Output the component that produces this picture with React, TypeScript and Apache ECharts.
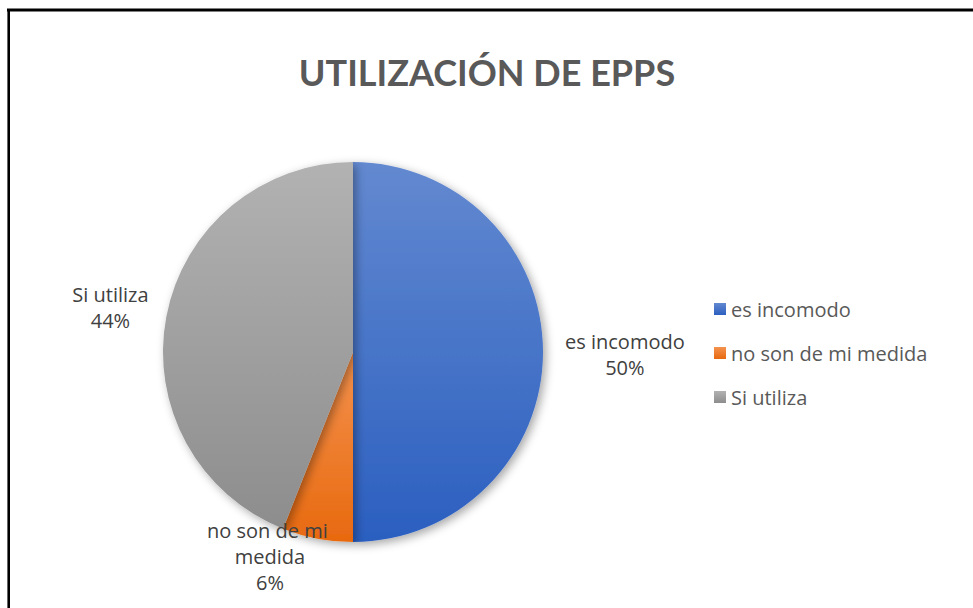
import React, { useEffect, useRef } from "react";
import * as echarts from "echarts";

const titleText = "UTILIZACIÓN DE EPPS";
const categories = ["es incomodo", "no son de mi medida", "Si utiliza"];
const values = [50, 6, 44];
const gradients: [string, string][] = [
  ["#6389d0", "#2b5fc0"],
  ["#f4924e", "#e8690f"],
  ["#b2b2b2", "#8d8d8d"],
];

export default function App() {
  const ref = useRef<HTMLDivElement>(null);
  useEffect(() => {
    if (!ref.current) return;
    const chart = echarts.init(ref.current, null, { renderer: "svg" });
    const font = "Lato, 'Noto Sans', sans-serif";
    const textFont = "'Open Sans', 'Noto Sans', sans-serif";
    chart.setOption({
      animation: false,
      backgroundColor: "#ffffff",
      title: {
        text: titleText,
        left: 482,
        textAlign: "center",
        top: 49,
        textStyle: { fontFamily: font, fontSize: 36, fontWeight: "bold", color: "#595959" },
      },
      graphic: [
        { type: "line", shape: { x1: 7, y1: 10, x2: 973, y2: 10 }, style: { stroke: "#000", lineWidth: 3 } },
        { type: "line", shape: { x1: 8.7, y1: 9, x2: 8.7, y2: 608 }, style: { stroke: "#000", lineWidth: 2.6 } },
      ],
      legend: {
        orient: "vertical",
        left: 709,
        top: 294,
        itemWidth: 12,
        itemHeight: 12,
        itemGap: 24,
        icon: "rect",
        data: categories,
        textStyle: { fontFamily: textFont, fontSize: 20, color: "#595959" },
      },
      series: [
        {
          type: "pie",
          center: [353, 352],
          radius: 190,
          startAngle: 90,
          clockwise: true,
          avoidLabelOverlap: false,
          itemStyle: {
            shadowBlur: 10,
            shadowOffsetX: 3,
            shadowOffsetY: 3,
            shadowColor: "rgba(0,0,0,0.35)",
          },
          label: {
            show: true,
            position: "outside",
            formatter: "{b}\n{d}%",
            fontFamily: textFont,
            fontSize: 20,
            lineHeight: 26,
            color: "#404040",
          },
          labelLine: { show: false, length: 10, length2: 5 },
          labelLayout: (params: any) => {
            const r = params.labelRect;
            let dx = 0;
            let dy = 0;
            if (params.dataIndex === 0) {
              dx = 2;
              dy = 2;
            }
            if (params.dataIndex === 1) {
              dx = 32;
              dy = 8;
            }
            if (params.dataIndex === 2) {
              dx = 2;
              dy = -7;
            }
            return {
              x: r.x + r.width / 2 + dx,
              y: r.y + r.height / 2 + dy,
              align: "center",
              verticalAlign: "middle",
            };
          },
          data: categories.map((name, i) => ({
            name,
            value: values[i],
            label: i === 1 ? { width: 135, overflow: "break" } : undefined,
            itemStyle: {
              color: new echarts.graphic.LinearGradient(0, 0, 0, 1, [
                { offset: 0, color: gradients[i][0] },
                { offset: 1, color: gradients[i][1] },
              ]),
            },
          })),
        },
      ],
    });
    return () => chart.dispose();
  }, []);
  return (
    <div
      ref={ref}
      style={{ position: "fixed", left: 0, top: 0, width: 973, height: 608 }}
    />
  );
}
